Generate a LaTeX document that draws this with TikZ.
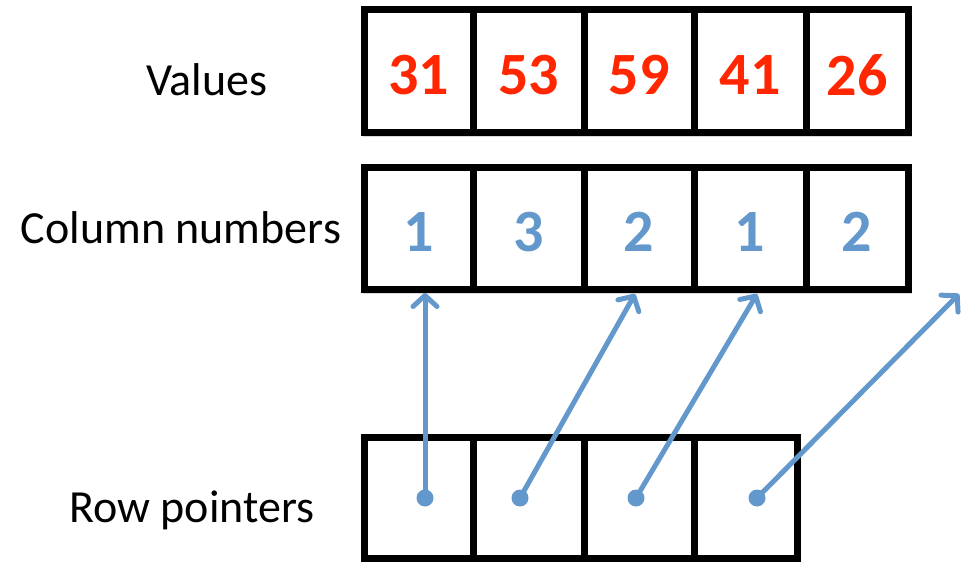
\documentclass[tikz,border=0pt]{standalone}
\usepackage{fontspec}
\setmainfont{Carlito}
\usetikzlibrary{arrows.meta,calc}
\definecolor{valred}{RGB}{255,38,0}
\definecolor{ptrblue}{RGB}{99,152,204}
\tikzset{
  cell/.style={draw=black, line width=7pt, rectangle, inner sep=0pt},
  valtext/.style={text=valred, font=\fontsize{60}{60}\selectfont\bfseries, inner sep=0pt},
  coltext/.style={text=ptrblue, font=\fontsize{60}{60}\selectfont\bfseries, inner sep=0pt},
  lbl/.style={font=\fontsize{46}{46}\selectfont, inner sep=0pt},
  dot/.style={circle, fill=ptrblue, minimum size=17pt, inner sep=0pt},
  ptr/.style={draw=ptrblue, line width=5pt, line cap=round, -{Straight Barb[length=11pt,width=24pt,line width=5pt,round]}},
  shadowbox/.style={fill=black, opacity=0.15, draw=none}
}
\begin{document}
\begin{tikzpicture}[x=1pt, y=-1pt]
\useasboundingbox (0,0) rectangle (962,562);
% shadows
\fill[shadowbox] (363,14) rectangle (912,137);
\fill[shadowbox] (363,171) rectangle (912,294);
\fill[shadowbox] (363,441) rectangle (801,562);
% Values row
\foreach \i/\a/\b in {1/364/473, 2/473/584, 3/584/694, 4/694/806, 5/806/908} {
  \node[cell, fill=white, minimum width=\b-\a, minimum height=122.5] (v\i) at ({(\a+\b)/2}, 71) {};
}
% Column numbers row
\foreach \i/\a/\b in {1/364/473, 2/473/584, 3/584/694, 4/694/806, 5/806/908} {
  \node[cell, fill=white, minimum width=\b-\a, minimum height=122] (c\i) at ({(\a+\b)/2}, 228) {};
}
% Row pointers row
\foreach \i/\a/\b in {1/364/473, 2/473/584, 3/584/694, 4/694/797} {
  \node[cell, fill=white, minimum width=\b-\a, minimum height=121] (r\i) at ({(\a+\b)/2}, 497.5) {};
}
% values text
\node[valtext] (v1t) at ($(v1.center)+(0,4)$) {31};
\node[valtext] (v2t) at ($(v2.center)+(0,4)$) {53};
\node[valtext] (v3t) at ($(v3.center)+(0,4)$) {59};
\node[valtext] (v4t) at ($(v4.center)+(0,4)$) {41};
\node[valtext] (v5t) at ($(v5.center)+(0,4)$) {26};
% column text
\node[coltext] (c1t) at ($(c1.center)+(0,4)$) {1};
\node[coltext] (c2t) at ($(c2.center)+(0,4)$) {3};
\node[coltext] (c3t) at ($(c3.center)+(0,4)$) {2};
\node[coltext] (c4t) at ($(c4.center)+(0,4)$) {1};
\node[coltext] (c5t) at ($(c5.center)+(0,4)$) {2};
% labels
\node[lbl] (lv) at (207,80) {Values};
\node[lbl] (lc) at (181,228) {Column numbers};
\node[lbl] (lr) at (192,510) {Row pointers};
% pointer dots and targets
\node[dot] (p1) at (425,498) {};
\node[dot] (p2) at (520,498) {};
\node[dot] (p3) at (636,498) {};
\node[dot] (p4) at (757,498) {};
\coordinate (t1) at (425,293);
\coordinate (t2) at (635,294);
\coordinate (t3) at (757,294);
\coordinate (t4) at (959,294);
\draw[ptr] (p1.center) -- (t1);
\draw[ptr] (p2.center) -- (t2);
\draw[ptr] (p3.center) -- (t3);
\draw[ptr] (p4.center) -- (t4);
\end{tikzpicture}
\end{document}
